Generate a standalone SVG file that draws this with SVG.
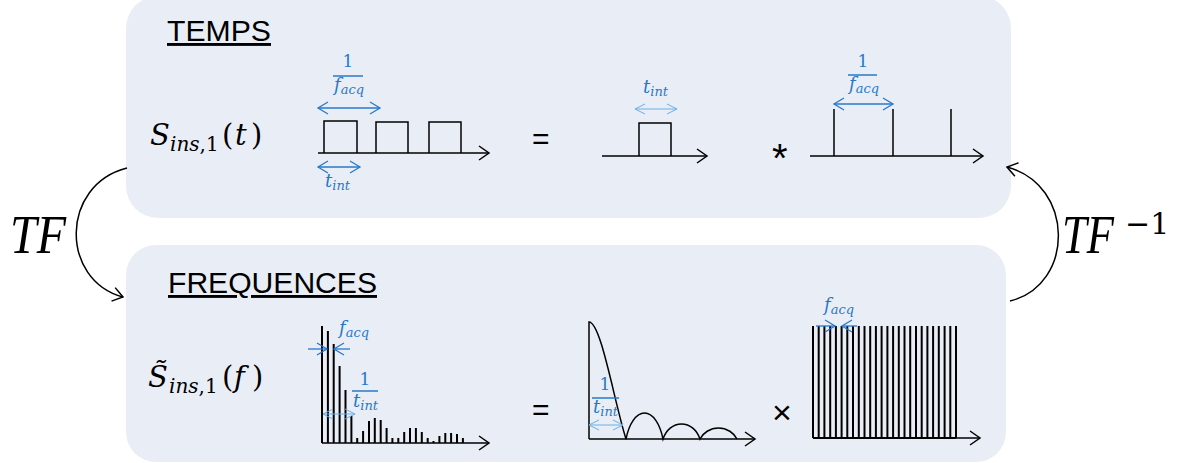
<svg xmlns="http://www.w3.org/2000/svg" width="1181" height="463" viewBox="0 0 1181 463">
<style>
.panel{fill:#e9eef6}
.title{font-family:"Liberation Sans",Arial,sans-serif;font-size:29px;fill:#000;text-decoration:underline}
.math{font-family:"DejaVu Serif","Liberation Serif",serif;fill:#000}
.tf{font-family:"Liberation Serif","Times New Roman",serif;fill:#000}
.it{font-style:italic}
.blue{fill:#2878c8}
.sig{stroke:#000;stroke-width:1.5;fill:none}
.bar{stroke:#000;stroke-width:2;fill:none}
.barb{stroke:#2878c8;stroke-width:1.5}
.arr{stroke:#2878c8;stroke-width:1.3;fill:none}
.arrl{stroke:#6aaee6;stroke-width:1;fill:none}
.op{font-family:"Liberation Sans",Arial,sans-serif;fill:#000}
.conn{stroke:#000;stroke-width:1.5;fill:none}
</style>
<defs>
<marker id="ah" markerUnits="userSpaceOnUse" markerWidth="12" markerHeight="16" refX="10" refY="7" orient="auto" overflow="visible"><path d="M0,0 L10,7 L0,14" fill="none" stroke="#000" stroke-width="1.5"/></marker>
<marker id="bh" markerUnits="userSpaceOnUse" markerWidth="12" markerHeight="14" refX="10" refY="6" orient="auto-start-reverse" overflow="visible"><path d="M0,0 L10,6 L0,12" fill="none" stroke="#2878c8" stroke-width="1.3"/></marker>
<marker id="lh" markerUnits="userSpaceOnUse" markerWidth="12" markerHeight="14" refX="10" refY="5" orient="auto-start-reverse" overflow="visible"><path d="M0,0 L10,5 L0,10" fill="none" stroke="#6aaee6" stroke-width="1"/></marker>
</defs>

<g id="temps">
<rect class="panel" x="126" y="-4" width="885" height="222" rx="32"/>
<text class="title" x="167" y="41" textLength="104" lengthAdjust="spacingAndGlyphs">TEMPS</text>
<text class="math" font-size="29"><tspan class="it" x="150" y="145">S</tspan><tspan class="it" font-size="20" x="170" y="151">ins</tspan><tspan font-size="20">,1</tspan><tspan x="222" y="145">(</tspan><tspan class="it" x="235">t</tspan><tspan x="251">)</tspan></text>
<!-- square wave -->
<path class="sig" d="M318,153 H489" marker-end="url(#ah)"/>
<path class="sig" d="M324,153 V121 H357 V153 M376,153 V122 H408 V153 M429,153 V122 H461 V153"/>
<text class="math blue" font-size="17" x="348" y="67" text-anchor="middle">1</text>
<line class="barb" x1="333" y1="76" x2="363" y2="76"/>
<text class="math blue it" font-size="18" x="334" y="91">f<tspan font-size="13" dy="3">acq</tspan></text>
<line class="arr" x1="318" y1="108" x2="380" y2="108" marker-start="url(#bh)" marker-end="url(#bh)"/>
<line class="arr" x1="318" y1="167" x2="360" y2="167" marker-start="url(#bh)" marker-end="url(#bh)"/>
<text class="math blue it" font-size="18" x="325" y="187">t<tspan font-size="13" dy="3">int</tspan></text>
<text class="op" font-size="30" x="532" y="149">=</text>
<!-- single pulse -->
<path class="sig" d="M602,156 H707" marker-end="url(#ah)"/>
<path class="sig" d="M639,156 V123 H671 V156"/>
<line class="arrl" x1="635" y1="109" x2="677" y2="109" marker-start="url(#lh)" marker-end="url(#lh)"/>
<text class="math blue it" font-size="18" x="643" y="93">t<tspan font-size="13" dy="3">int</tspan></text>
<text class="op" font-size="40" x="772" y="172">*</text>
<!-- dirac comb -->
<path class="sig" d="M810,156 H983" marker-end="url(#ah)"/>
<path class="sig" d="M834,156 V109 M893,156 V109 M951,156 V109"/>
<line class="arr" x1="834" y1="104" x2="893" y2="104" marker-start="url(#bh)" marker-end="url(#bh)"/>
<text class="math blue" font-size="17" x="863" y="67" text-anchor="middle">1</text>
<line class="barb" x1="848" y1="75" x2="877" y2="75"/>
<text class="math blue it" font-size="18" x="849" y="90">f<tspan font-size="13" dy="3">acq</tspan></text>
</g>

<g id="frequences">
<rect class="panel" x="126" y="245" width="880" height="217" rx="30"/>
<text class="title" x="168" y="293" textLength="209" lengthAdjust="spacingAndGlyphs">FREQUENCES</text>
<text class="math" font-size="29"><tspan class="it" x="148" y="387">S̃</tspan><tspan class="it" font-size="20" x="169" y="393">ins</tspan><tspan font-size="20">,1</tspan><tspan x="222" y="387">(</tspan><tspan class="it" x="234">f</tspan><tspan x="252">)</tspan></text>
<!-- spectrum -->
<path class="sig" d="M322,443 H489" marker-end="url(#ah)"/>
<path class="bar" d="M322,443V326 M327.9,443V331 M333.7,443V344 M339.6,443V366 M345.5,443V390 M351.4,443V416 M357.2,443V438 M363.1,443V431 M369,443V421 M374.8,443V418 M380.7,443V420 M386.6,443V428 M392.4,443V438 M398.3,443V438 M404.2,443V432 M410,443V428 M415.9,443V428 M421.8,443V432 M427.7,443V438 M433.5,443V441 M439.4,443V436 M445.3,443V433 M451.1,443V433 M457,443V434 M462.9,443V438"/>
<line class="arr" x1="308" y1="349" x2="327" y2="349" marker-end="url(#bh)"/>
<line class="arr" x1="350" y1="349" x2="334" y2="349" marker-end="url(#bh)"/>
<text class="math blue it" font-size="18" x="339" y="334">f<tspan font-size="13" dy="3">acq</tspan></text>
<text class="math blue" font-size="17" x="365" y="385" text-anchor="middle">1</text>
<line class="barb" x1="352" y1="391" x2="378" y2="391"/>
<text class="math blue it" font-size="18" x="353" y="407">t<tspan font-size="13" dy="3">int</tspan></text>
<line class="arrl" x1="323" y1="414" x2="355" y2="414" marker-start="url(#lh)" marker-end="url(#lh)"/>
<text class="op" font-size="30" x="532" y="420">=</text>
<!-- sinc -->
<path class="sig" d="M589,439 H755" marker-end="url(#ah)"/>
<path class="sig" d="M589,439 V322 C601,322 614,401 626,439 C629,424 636,413 644.5,413 C653,413 660,424 663,439 C666,430 673,424 681.5,424 C690,424 697,430 700,439 C703,433 710,428 718.5,428 C727,428 734,433 737,439"/>
<text class="math blue" font-size="17" x="605" y="390" text-anchor="middle">1</text>
<line class="barb" x1="592" y1="398" x2="619" y2="398"/>
<text class="math blue it" font-size="18" x="593" y="413">t<tspan font-size="13" dy="3">int</tspan></text>
<line class="arrl" x1="589" y1="425" x2="623" y2="425" marker-start="url(#lh)" marker-end="url(#lh)"/>
<text class="op" font-size="34" x="772" y="424">×</text>
<!-- comb -->
<path class="sig" d="M813,438 H980" marker-end="url(#ah)"/>
<path class="bar" d="M813,438 H956 M813,438V326 M818.7,438V326 M824.4,438V326 M830.2,438V326 M835.9,438V326 M841.6,438V326 M847.3,438V326 M853,438V326 M858.8,438V326 M864.5,438V326 M870.2,438V326 M875.9,438V326 M881.6,438V326 M887.4,438V326 M893.1,438V326 M898.8,438V326 M904.5,438V326 M910.2,438V326 M916,438V326 M921.7,438V326 M927.4,438V326 M933.1,438V326 M938.8,438V326 M944.6,438V326 M950.3,438V326 M956,438V326"/>
<line class="arr" x1="816" y1="326" x2="835" y2="326" marker-end="url(#bh)"/>
<line class="arr" x1="857" y1="326" x2="842" y2="326" marker-end="url(#bh)"/>
<text class="math blue it" font-size="18" x="824" y="311">f<tspan font-size="13" dy="3">acq</tspan></text>
</g>

<g id="connectors">
<path class="conn" d="M127,168 C60,185 60,280 123,297" marker-end="url(#ah)"/>
<path class="conn" d="M1010,301 C1075,285 1075,185 1007,167" marker-end="url(#ah)"/>
<text class="tf it" font-size="54" x="10" y="253" textLength="56" lengthAdjust="spacingAndGlyphs">TF</text>
<text class="tf" font-size="54"><tspan class="it" x="1062" y="253" textLength="52" lengthAdjust="spacingAndGlyphs">TF</tspan><tspan class="math" font-size="30" x="1125" y="234">−1</tspan></text>
</g>
</svg>
